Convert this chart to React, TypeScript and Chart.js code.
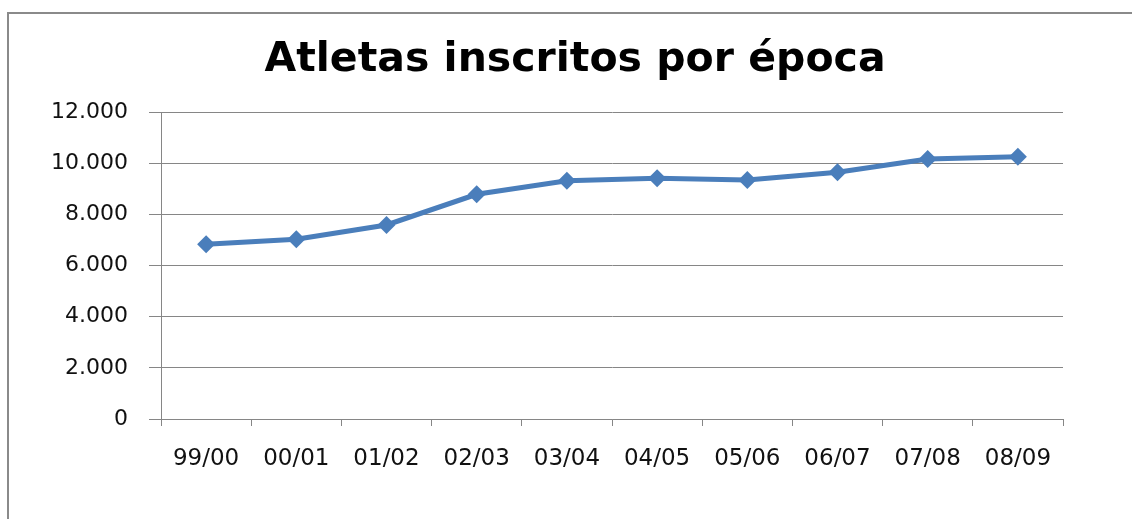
import React, { useEffect, useRef } from "react";
import { Chart, registerables } from "chart.js";

Chart.register(...registerables);

const categories = ["99/00", "00/01", "01/02", "02/03", "03/04", "04/05", "05/06", "06/07", "07/08", "08/09"];
const athletes = [6830, 7025, 7584, 8784, 9316, 9410, 9343, 9644, 10164, 10254];
const yMin = 0;
const yMax = 12000;
const yStep = 2000;
const titleText = "Atletas inscritos por época";

const formatThousands = (v: number) => {
  const s = Math.round(v).toString();
  return s.replace(/\B(?=(\d{3})+(?!\d))/g, ".");
};

const framePlugin = {
  id: "frame",
  afterLayout(chart: any) {
    // centre the title a bit to the right, as in the reference
    if (chart.titleBlock) {
      chart.titleBlock.left = 87;
    }
  },
  beforeDraw(chart: any) {
    const ctx = chart.ctx;
    ctx.save();
    ctx.fillStyle = "#ffffff";
    ctx.fillRect(0, 0, chart.width, chart.height);
    ctx.strokeStyle = "#8a8a8a";
    ctx.lineWidth = 2;
    ctx.beginPath();
    ctx.moveTo(8, chart.height);
    ctx.lineTo(8, 13);
    ctx.lineTo(chart.width, 13);
    ctx.stroke();
    ctx.restore();
  },
};

export default function App() {
  const ref = useRef<HTMLCanvasElement | null>(null);
  useEffect(() => {
    if (!ref.current) return;
    const chart = new Chart(ref.current, {
      type: "line",
      data: {
        labels: categories,
        datasets: [
          {
            label: "Atletas",
            data: athletes,
            borderColor: "#4a7ebb",
            backgroundColor: "#4a7ebb",
            borderWidth: 5,
            tension: 0,
            pointStyle: "rectRot",
            pointRadius: 9,
            pointHoverRadius: 9,
            pointBackgroundColor: "#4a7ebb",
            pointBorderColor: "#4a7ebb",
            pointBorderWidth: 0,
          },
        ],
      },
      options: {
        animation: false,
        responsive: false,
        events: [],
        layout: { padding: { left: 18, right: 69, top: 0, bottom: 0 } },
        plugins: {
          legend: { display: false },
          tooltip: { enabled: false },
          title: {
            display: true,
            text: titleText,
            color: "#000000",
            font: { family: "DejaVu Sans", size: 41, weight: "bold" },
            padding: { top: 36, bottom: 26.8 },
          },
        },
        scales: {
          x: {
            type: "category",
            offset: true,
            grid: {
              display: true,
              drawOnChartArea: false,
              drawTicks: true,
              tickLength: 7,
              color: "#868686",
              offset: true,
            },
            border: { display: true, color: "#868686", width: 1 },
            ticks: {
              color: "#111111",
              font: { family: "DejaVu Sans", size: 23 },
              padding: 19,
              maxRotation: 0,
              autoSkip: false,
            },
            afterFit: (s: any) => {
              s.height = 100;
            },
          },
          y: {
            min: yMin,
            max: yMax,
            grid: { color: "#868686", tickLength: 12, lineWidth: 1 },
            border: { display: true, color: "#868686", width: 1 },
            ticks: {
              stepSize: yStep,
              color: "#111111",
              font: { family: "DejaVu Sans", size: 22 },
              padding: 21,
              callback: (v: any) => formatThousands(Number(v)),
            },
            afterFit: (s: any) => {
              s.width = 143;
            },
          },
        },
      },
      plugins: [framePlugin],
    });
    return () => chart.destroy();
  }, []);
  return (
    <div style={{ position: "fixed", left: 0, top: 0, width: 1132, height: 519, background: "#fff" }}>
      <canvas ref={ref} width={1132} height={519} />
    </div>
  );
}
